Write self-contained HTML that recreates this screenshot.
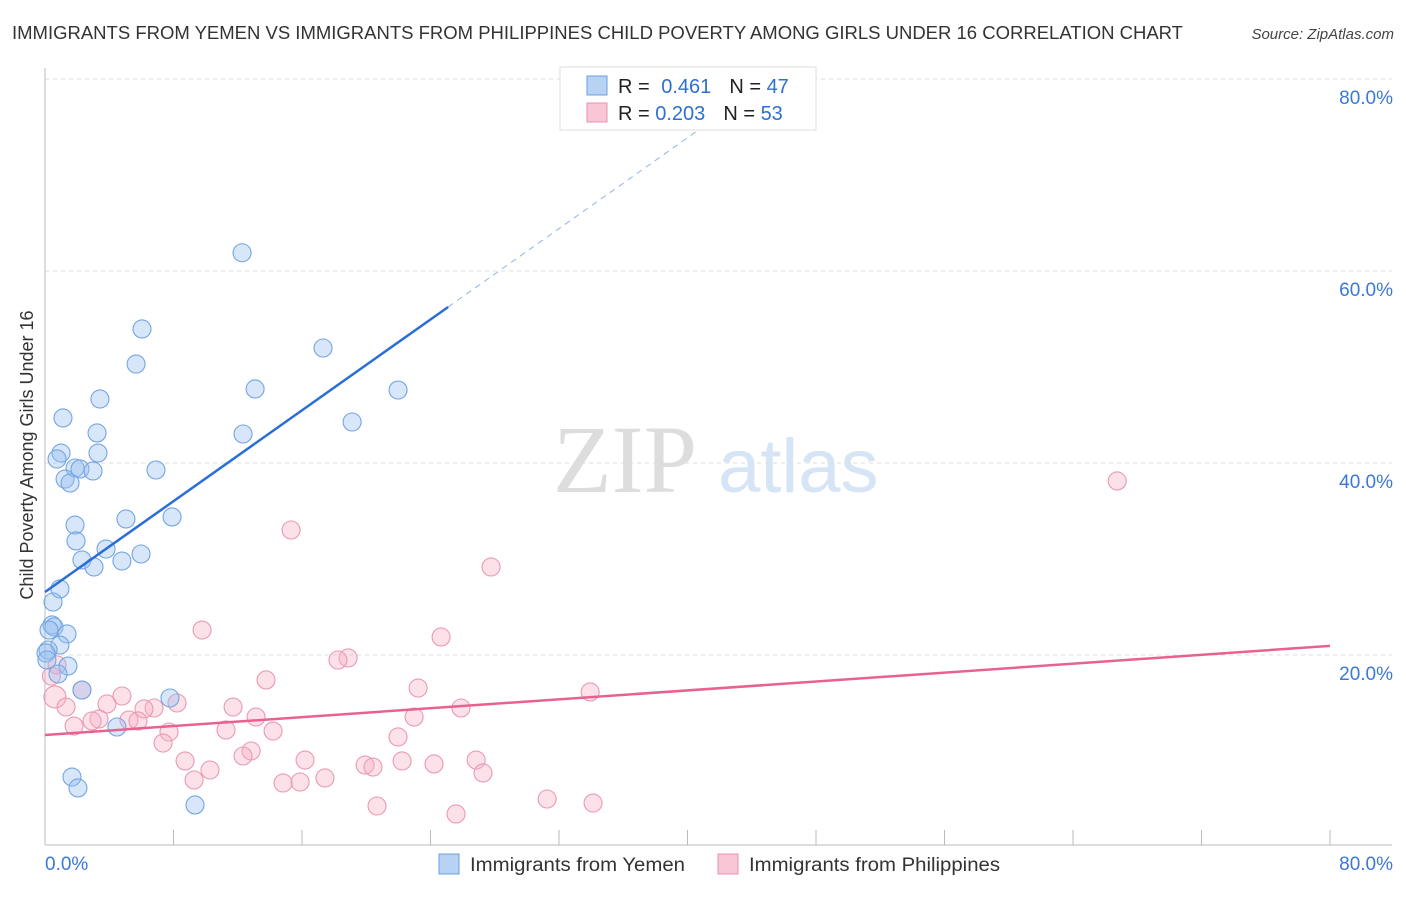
<!DOCTYPE html>
<html><head><meta charset="utf-8">
<style>
body{margin:0;background:#fff;font-family:"Liberation Sans",sans-serif;}
svg text{font-family:"Liberation Sans",sans-serif;}
</style></head>
<body>
<svg id="chart" width="1406" height="892" xmlns="http://www.w3.org/2000/svg">
<text x="12" y="39" font-size="18" fill="#333" textLength="1171" lengthAdjust="spacingAndGlyphs">IMMIGRANTS FROM YEMEN VS IMMIGRANTS FROM PHILIPPINES CHILD POVERTY AMONG GIRLS UNDER 16 CORRELATION CHART</text>
<text x="1394" y="39" font-size="15" fill="#444" font-style="italic" text-anchor="end">Source: ZipAtlas.com</text>
<g>
<text x="553" y="492" font-size="96" fill="#ddd" font-family="Liberation Serif" style="font-family:'Liberation Serif',serif">ZIP</text>
<text x="718" y="492" font-size="76" fill="#d6e5f6">atlas</text>
</g>
<g id="grid"></g>
<g id="axes"></g>
<g id="marks"></g>
<text transform="translate(33,455) rotate(-90)" font-size="18" fill="#333" text-anchor="middle">Child Poverty Among Girls Under 16</text>
<g>
<rect x="560" y="67" width="256" height="63" fill="#fff" stroke="#ddd"/>
<rect x="587" y="76" width="20" height="19" fill="#b8d2f3" stroke="#6a9fe0"/>
<rect x="587" y="103" width="20" height="19" fill="#f8c6d5" stroke="#e890aa"/>
<text x="618" y="93" font-size="20" fill="#222">R = <tspan fill="#2f6fd0" dx="6">0.461</tspan><tspan fill="#222" dx="18">N = </tspan><tspan fill="#2f6fd0">47</tspan></text>
<text x="618" y="120" font-size="20" fill="#222">R = <tspan fill="#2f6fd0">0.203</tspan><tspan fill="#222" dx="18">N = </tspan><tspan fill="#2f6fd0">53</tspan></text>
</g>
<g>
<rect x="439" y="854" width="20" height="20" fill="#b8d2f3" stroke="#6a9fe0"/>
<text x="470" y="871" font-size="19" fill="#333" textLength="215" lengthAdjust="spacingAndGlyphs">Immigrants from Yemen</text>
<rect x="718" y="854" width="20" height="20" fill="#f8c6d5" stroke="#e890aa"/>
<text x="749" y="871" font-size="19" fill="#333" textLength="251" lengthAdjust="spacingAndGlyphs">Immigrants from Philippines</text>
</g>
</svg>
<script>
const yTicks=[20,40,60,80];
const yTickLabels=["20.0%","40.0%","60.0%","80.0%"];
const xTicks=[0,8,16,24,32,40,48,56,64,72,80];
const xEndLabels=["0.0%","80.0%"];
const yemenX=[12.27,6.04,17.31,5.67,13.08,21.98,3.42,1.12,19.12,3.24,12.33,3.30,1.0,0.75,6.91,1.87,2.18,2.99,1.25,1.56,5.04,7.91,1.87,1.93,3.80,5.98,2.30,4.79,3.05,0.93,0.50,0.44,0.56,0.25,1.37,0.93,0.19,0.06,1.43,0.81,2.30,7.78,4.48,1.68,2.05,9.34,0.12];
const yemenY=[61.9,53.96,51.98,50.31,47.71,47.6,46.67,44.69,44.27,43.13,43.02,41.04,41.04,40.42,39.27,39.48,39.38,39.17,38.33,37.92,34.17,34.38,33.54,31.88,31.04,30.52,29.9,29.79,29.17,26.88,25.52,23.13,22.92,22.6,22.19,21.04,20.52,20.21,18.85,18.02,16.35,15.52,12.5,7.29,6.15,4.38,19.48];
const philX=[66.75,15.32,27.77,9.78,24.66,18.87,18.24,0.75,13.76,23.23,33.94,4.79,2.30,0.62,8.22,3.86,1.31,6.79,6.16,11.71,25.9,13.14,22.98,5.23,5.79,3.36,2.93,1.81,14.2,7.72,21.98,11.27,7.35,12.83,12.33,16.19,26.84,22.23,8.72,24.22,10.27,27.27,9.28,19.93,20.42,17.43,14.82,15.88,31.26,34.12,20.67,25.59,0.4];
const philY=[38.13,33.02,29.17,22.6,21.88,19.69,19.48,18.96,17.4,16.56,16.15,15.73,16.35,15.63,15.0,14.9,14.58,14.48,14.38,14.58,14.48,13.54,13.54,13.23,13.13,13.33,13.13,12.6,12.08,11.98,11.46,12.19,10.83,10.0,9.48,9.06,9.06,8.96,8.96,8.65,8.02,7.71,6.98,8.54,8.33,7.19,6.67,6.77,5.0,4.58,4.27,3.44,17.8];
const yemenTrend=[26.56,1.183];
const philTrend=[11.67,0.116];

const NS="http://www.w3.org/2000/svg";
const X=v=>45+v*1285/80;
const Y=v=>847-v*9.6;
function mk(parent,tag,attrs){const e=document.createElementNS(NS,tag);for(const k in attrs)e.setAttribute(k,attrs[k]);document.getElementById(parent).appendChild(e);return e;}

yTicks.forEach((t,i)=>{
 const g=mk('grid','line',{x1:45,x2:1392,y1:Y(t),y2:Y(t),stroke:'#ddd','stroke-dasharray':'4,4'});
 
 
 const l=mk('axes','text',{x:1393,y:Y(t)+25,'font-size':19,fill:'#3b78d8','text-anchor':'end'});
 l.textContent=yTickLabels[i];
 
 
});
const ya=mk('axes','line',{x1:45,x2:45,y1:68,y2:845,stroke:'#bbb'});


const xa=mk('axes','line',{x1:45,x2:1392,y1:845,y2:845,stroke:'#bbb'});


xTicks.forEach(t=>{
 const k=mk('axes','line',{x1:X(t),x2:X(t),y1:830,y2:845,stroke:'#bbb'});
 
 
});
const xl0=mk('axes','text',{x:45,y:870,'font-size':19,fill:'#3b78d8'});
xl0.textContent=xEndLabels[0];


const xl1=mk('axes','text',{x:1393,y:870,'font-size':19,fill:'#3b78d8','text-anchor':'end'});
xl1.textContent=xEndLabels[1];



philX.forEach((v,i)=>{
 const c=mk('marks','circle',{cx:X(v),cy:Y(philY[i]),r:i===13?11:9,fill:'rgba(246,176,198,0.38)',stroke:'#e99ab2','stroke-width':1.1});
 
 
});
yemenX.forEach((v,i)=>{
 const c=mk('marks','circle',{cx:X(v),cy:Y(yemenY[i]),r:9,fill:'rgba(150,190,240,0.38)',stroke:'#74a5e2','stroke-width':1.1});
 
 
});
const yt=v=>yemenTrend[0]+yemenTrend[1]*v;
const ls=mk('marks','line',{x1:X(0),y1:Y(yt(0)),x2:X(25.1),y2:Y(yt(25.1)),stroke:'#2a6fd6','stroke-width':2.5});


const ld=mk('marks','line',{x1:X(25.1),y1:Y(yt(25.1)),x2:X(42.5),y2:Y(yt(42.5)),stroke:'#8fb4e8','stroke-width':1,'stroke-dasharray':'6,5'});


const pt=v=>philTrend[0]+philTrend[1]*v;
const lp=mk('marks','line',{x1:X(0),y1:Y(pt(0)),x2:X(80),y2:Y(pt(80)),stroke:'#e8628f','stroke-width':2.5});


</script>
</body></html>
